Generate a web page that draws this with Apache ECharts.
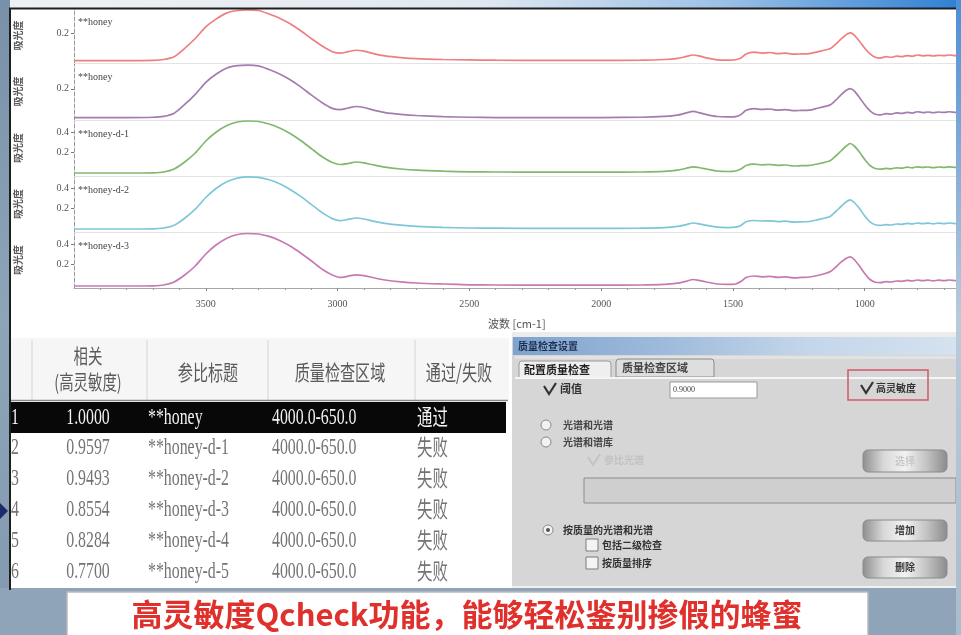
<!DOCTYPE html>
<html>
<head>
<meta charset="utf-8">
<script src="https://cdn.jsdelivr.net/npm/echarts@6/dist/echarts.min.js"></script>
<style>
  html, body { margin: 0; padding: 0; background: #8fa4b8; }
  #main { width: 961px; height: 635px; }
</style>
</head>
<body>
<div id="main"></div>
<script>
// ---- spectra: wavenumber grid (cm-1) and absorbance of each sample ----
const wavenumbers = [4000, 3900, 3800, 3700, 3660, 3620, 3580, 3540, 3500, 3460, 3420, 3380, 3340, 3300, 3260, 3220, 3180, 3140, 3100, 3060, 3020, 2990, 2960, 2930, 2900, 2860, 2820, 2760, 2700, 2600, 2500, 2400, 2200, 2000, 1850, 1760, 1710, 1680, 1650, 1630, 1600, 1560, 1520, 1490, 1470, 1450, 1420, 1390, 1360, 1330, 1300, 1270, 1240, 1210, 1180, 1150, 1130, 1110, 1090, 1070, 1055, 1040, 1020, 1000, 980, 960, 940, 920, 900, 880, 860, 840, 820, 800, 780, 760, 740, 720, 700, 680, 660, 650];

const honeyA = [0.002, 0.002, 0.002, 0.004, 0.010, 0.030, 0.090, 0.160, 0.243, 0.300, 0.343, 0.360, 0.364, 0.360, 0.335, 0.305, 0.265, 0.215, 0.160, 0.108, 0.066, 0.055, 0.066, 0.076, 0.070, 0.050, 0.036, 0.024, 0.016, 0.010, 0.007, 0.005, 0.004, 0.004, 0.005, 0.010, 0.018, 0.030, 0.042, 0.036, 0.022, 0.008, 0.006, 0.008, 0.020, 0.050, 0.062, 0.056, 0.060, 0.052, 0.056, 0.048, 0.050, 0.052, 0.065, 0.078, 0.088, 0.120, 0.155, 0.188, 0.200, 0.185, 0.140, 0.090, 0.050, 0.026, 0.020, 0.030, 0.026, 0.034, 0.030, 0.038, 0.033, 0.042, 0.036, 0.040, 0.035, 0.040, 0.037, 0.042, 0.038, 0.036];

const honeyB = [0.002, 0.002, 0.002, 0.004, 0.010, 0.032, 0.092, 0.162, 0.245, 0.302, 0.344, 0.360, 0.364, 0.358, 0.333, 0.302, 0.262, 0.213, 0.158, 0.106, 0.065, 0.056, 0.068, 0.078, 0.071, 0.051, 0.036, 0.024, 0.016, 0.008, 0.004, 0.002, 0.002, 0.002, 0.004, 0.010, 0.018, 0.032, 0.044, 0.036, 0.022, 0.009, 0.006, 0.008, 0.022, 0.052, 0.063, 0.058, 0.061, 0.053, 0.057, 0.049, 0.051, 0.053, 0.066, 0.079, 0.090, 0.122, 0.158, 0.190, 0.202, 0.186, 0.140, 0.090, 0.048, 0.025, 0.020, 0.029, 0.026, 0.034, 0.030, 0.038, 0.033, 0.042, 0.036, 0.040, 0.035, 0.040, 0.037, 0.042, 0.038, 0.036];

const honeyD1 = [-0.010, -0.010, -0.010, -0.008, 0.000, 0.030, 0.100, 0.190, 0.310, 0.400, 0.465, 0.500, 0.510, 0.505, 0.480, 0.440, 0.385, 0.315, 0.235, 0.155, 0.095, 0.075, 0.085, 0.100, 0.092, 0.068, 0.048, 0.030, 0.018, 0.008, 0.002, 0.000, -0.002, -0.002, 0.000, 0.006, 0.018, 0.035, 0.052, 0.045, 0.030, 0.010, 0.005, 0.010, 0.030, 0.065, 0.078, 0.072, 0.075, 0.066, 0.070, 0.060, 0.063, 0.066, 0.080, 0.098, 0.115, 0.160, 0.210, 0.260, 0.285, 0.260, 0.200, 0.125, 0.065, 0.035, 0.028, 0.036, 0.032, 0.042, 0.038, 0.048, 0.042, 0.052, 0.046, 0.050, 0.044, 0.050, 0.046, 0.052, 0.047, 0.045];

const honeyD2 = [-0.010, -0.010, -0.010, -0.008, 0.000, 0.028, 0.098, 0.188, 0.305, 0.398, 0.462, 0.498, 0.512, 0.506, 0.482, 0.442, 0.386, 0.316, 0.236, 0.156, 0.094, 0.074, 0.086, 0.100, 0.090, 0.066, 0.046, 0.028, 0.016, 0.006, 0.000, -0.002, -0.004, -0.004, -0.002, 0.004, 0.016, 0.032, 0.050, 0.042, 0.026, 0.008, 0.004, 0.008, 0.026, 0.062, 0.075, 0.070, 0.072, 0.064, 0.068, 0.058, 0.062, 0.065, 0.082, 0.100, 0.118, 0.165, 0.215, 0.262, 0.282, 0.255, 0.195, 0.120, 0.062, 0.032, 0.026, 0.034, 0.030, 0.040, 0.036, 0.046, 0.040, 0.050, 0.044, 0.048, 0.042, 0.048, 0.044, 0.050, 0.045, 0.043];

const honeyD3 = [-0.020, -0.020, -0.020, -0.018, -0.010, 0.020, 0.090, 0.180, 0.300, 0.392, 0.458, 0.495, 0.505, 0.500, 0.476, 0.436, 0.380, 0.310, 0.232, 0.150, 0.090, 0.066, 0.078, 0.092, 0.084, 0.060, 0.040, 0.022, 0.010, 0.000, -0.008, -0.010, -0.012, -0.012, -0.010, -0.004, 0.008, 0.026, 0.045, 0.036, 0.020, 0.000, -0.004, 0.000, 0.025, 0.065, 0.080, 0.072, 0.076, 0.066, 0.072, 0.062, 0.066, 0.070, 0.085, 0.105, 0.125, 0.170, 0.218, 0.258, 0.272, 0.245, 0.180, 0.105, 0.045, 0.018, 0.014, 0.024, 0.020, 0.030, 0.027, 0.036, 0.030, 0.040, 0.034, 0.038, 0.032, 0.038, 0.034, 0.040, 0.035, 0.033];

const spectra = [honeyA, honeyB, honeyD1, honeyD2, honeyD3];
const sampleNames = ['**honey', '**honey', '**honey-d-1', '**honey-d-2', '**honey-d-3'];
const yTickValues = [[0.2], [0.2], [0.2, 0.4], [0.2, 0.4], [0.2, 0.4]];
const xTickValues = [3500, 3000, 2500, 2000, 1500, 1000];

// ---- result table ----
const rowNumbers = ['1', '2', '3', '4', '5', '6'];
const correlations = ['1.0000', '0.9597', '0.9493', '0.8554', '0.8284', '0.7700'];
const refTitles = ['**honey', '**honey-d-1', '**honey-d-2', '**honey-d-3', '**honey-d-4', '**honey-d-5'];
const checkRegions = ['4000.0-650.0', '4000.0-650.0', '4000.0-650.0', '4000.0-650.0', '4000.0-650.0', '4000.0-650.0'];
const verdicts = ['通过', '失败', '失败', '失败', '失败', '失败'];
const headers = ['参比标题', '质量检查区域', '通过/失败'];

// ---- layout / style ----
const lineColors = ['#ef7e82', '#a47cad', '#80b96d', '#7ec6d8', '#c879b2'];
const panelTops = [8, 63, 120, 176, 232];
const panelHeights = [55, 57, 56, 56, 56];
const panelRanges = [[-0.015, 0.378], [-0.015, 0.378], [-0.04, 0.52], [-0.04, 0.52], [-0.04, 0.52]];
const SERIF = '"Liberation Serif", "DejaVu Serif", serif';
const CJK = '"Noto Sans CJK SC", "Noto Sans", sans-serif';

const grids = [], xAxes = [], yAxes = [], series = [];
spectra.forEach((vals, i) => {
  grids.push({ left: 74, width: 883, top: panelTops[i], height: panelHeights[i] });
  const last = i === spectra.length - 1;
  xAxes.push({
    gridIndex: i, type: 'value', min: 650, max: 4000, inverse: true, splitNumber: 7,
    axisLine: { show: true, onZero: false, lineStyle: { color: last ? '#a8a8a8' : '#e4e4e4', width: 1 } },
    axisTick: last ? { show: true, length: 3, customValues: xTickValues, lineStyle: { color: '#888' } } : { show: false },
    minorTick: { show: last, splitNumber: 5, length: 2, lineStyle: { color: '#999' } },
    axisLabel: last ? { show: true, customValues: xTickValues, margin: 11, fontSize: 10, color: '#555', fontFamily: SERIF,
                        formatter: v => String(v) } : { show: false },
    splitLine: { show: false }
  });
  yAxes.push({
    gridIndex: i, type: 'value', min: panelRanges[i][0], max: panelRanges[i][1],
    axisLine: { show: true, lineStyle: { color: '#9a9a9a', type: 'dashed' } },
    axisTick: { show: true, length: 3, customValues: yTickValues[i], lineStyle: { color: '#777' } },
    axisLabel: { customValues: yTickValues[i], margin: 5, fontSize: 10, color: '#555', fontFamily: SERIF,
                 formatter: v => v.toFixed(1) },
    splitLine: { show: false },
    name: '吸光度', nameLocation: 'middle', nameRotate: 90, nameGap: 51,
    nameTextStyle: { fontSize: 10, color: '#5a5a5a', fontFamily: CJK, fontWeight: 'bold' }
  });
  series.push({
    type: 'line', xAxisIndex: i, yAxisIndex: i, silent: true,
    data: wavenumbers.map((w, k) => [w, vals[k]]),
    showSymbol: false, smooth: 0.25,
    lineStyle: { color: lineColors[i], width: 1.7 }
  });
});

// ---- graphic helpers ----
function rect(x, y, w, h, fill, extra) {
  return Object.assign({ type: 'rect', shape: { x, y, width: w, height: h }, style: { fill } }, extra || {});
}
function line(x1, y1, x2, y2, stroke, lw, extra) {
  return Object.assign({ type: 'line', shape: { x1, y1, x2, y2 }, style: { stroke, lineWidth: lw || 1 } }, extra || {});
}
function text(x, y, s, o) {
  o = o || {};
  return {
    type: 'text', x, y, scaleX: o.sx || 1, z: o.z || 5,
    style: {
      text: s, x: 0, y: 0, fill: o.fill || '#555', fontSize: o.size || 12,
      fontFamily: o.family || CJK, fontWeight: o.weight || 'normal',
      align: o.align || 'left', verticalAlign: 'middle'
    }
  };
}
function hgrad(stops) {
  return { type: 'linear', x: 0, y: 0, x2: 1, y2: 0, colorStops: stops.map((c, i) => ({ offset: i / (stops.length - 1), color: c })) };
}
function vgrad(stops) {
  return { type: 'linear', x: 0, y: 0, x2: 0, y2: 1, colorStops: stops.map((c, i) => ({ offset: i / (stops.length - 1), color: c })) };
}
function button(x, y, w, h, label) {
  const els = [{
    type: 'rect', shape: { x, y, width: w, height: h, r: 5 },
    style: { fill: hgrad(['#8e8e8e', '#d9d9d9', '#f2f2f2', '#c4c4c4', '#8a8a8a']), stroke: '#8a8a8a', lineWidth: 1 }
  }];
  if (label) els.push(text(x + w / 2, y + h / 2, label, { size: 10, fill: '#3a3a3a', weight: 'bold', align: 'center' }));
  return els;
}
function checkbox(x, y, checked, col) {
  const els = [];
  if (checked) {
    els.push({ type: 'polyline', shape: { points: [[x, y - 3], [x + 5, y + 5], [x + 12, y - 6]] },
               style: { stroke: col || '#333', lineWidth: 2.2, fill: null } });
  } else {
    els.push({ type: 'rect', shape: { x, y: y - 6, width: 12, height: 12 }, style: { fill: '#f4f4f4', stroke: '#7a7a7a', lineWidth: 1 } });
  }
  return els;
}
function radio(x, y, on) {
  const els = [{ type: 'circle', shape: { cx: x, cy: y, r: 5 }, style: { fill: '#f2f2f2', stroke: '#8a8a8a', lineWidth: 1 } }];
  if (on) els.push({ type: 'circle', shape: { cx: x, cy: y, r: 2 }, style: { fill: '#555' } });
  return els;
}

const g = [];
// slide frame
g.push(rect(0, 0, 961, 9, hgrad(['#eef1f4', '#e9edf1', '#dfe8f1', '#9cc1e6', '#2f7fd4']), { z: -10 }));
g.push(rect(0, 0, 10, 635, vgrad(['#7890a8', '#8ea4b9', '#8299af']), { z: -10 }));
g.push(rect(0, 588, 961, 47, '#8fa4b8', { z: -10 }));
g.push(rect(10, 9, 946, 327, '#ffffff', { z: -10 }));
g.push(line(9, 8.5, 956, 8.5, '#1e1e1e', 2, { z: 20 }));
g.push(line(10, 8, 10, 590, '#1e1e1e', 2, { z: 20 }));
g.push(rect(956, 0, 5, 635, vgrad(['#4d8fd6', '#b9cadb', '#a9bccd']), { z: 20 }));
g.push({ type: 'polygon', shape: { points: [[0, 503], [8, 511], [0, 519]] }, style: { fill: '#1e2a6a' }, z: 20 });

// sample names inside each panel
sampleNames.forEach((n, i) => {
  g.push(text(78, panelTops[i] + 14, n, { size: 10, family: SERIF, fill: '#444' }));
});
g.push(text(488, 324, '波数 [cm-1]', { size: 11, family: CJK, fill: '#555' }));

// ---- table ----
g.push(rect(10, 336, 502, 252, '#ffffff', { z: -10 }));
g.push(rect(11, 338, 498, 62, '#f6f6f6'));
[32, 147, 268, 415].forEach(x => g.push(line(x, 340, x, 400, '#d4d4d4', 1)));
g.push(line(11, 400.5, 508, 400.5, '#8a8a8a', 1.5));
g.push(text(88, 356, '相关', { size: 20, sx: 0.72, align: 'center', fill: '#5a5a5a' }));
g.push(text(88, 382, '(高灵敏度)', { size: 20, sx: 0.72, align: 'center', fill: '#5a5a5a' }));
g.push(text(208, 372, headers[0], { size: 21, sx: 0.72, align: 'center', fill: '#5a5a5a' }));
g.push(text(340, 372, headers[1], { size: 21, sx: 0.72, align: 'center', fill: '#5a5a5a' }));
g.push(text(459, 372, headers[2], { size: 21, sx: 0.72, align: 'center', fill: '#5a5a5a' }));
g.push(rect(10, 402, 496, 31, '#080808'));
const rowY = [418, 448, 479, 510, 541, 572];
rowNumbers.forEach((r, i) => {
  const col = i === 0 ? '#f2f2f2' : '#747474';
  g.push(text(15, rowY[i], r, { size: 24, sx: 0.66, family: SERIF, align: 'center', fill: col }));
  g.push(text(88, rowY[i], correlations[i], { size: 24, sx: 0.66, family: SERIF, align: 'center', fill: col }));
  g.push(text(148, rowY[i], refTitles[i], { size: 24, sx: 0.66, family: SERIF, fill: col }));
  g.push(text(272, rowY[i], checkRegions[i], { size: 24, sx: 0.66, family: SERIF, fill: col }));
  g.push(text(417, rowY[i] - 1, verdicts[i], { size: 22, sx: 0.7, fill: col }));
});

// ---- quality-check settings dialog ----
g.push(rect(512, 332, 444, 256, '#d6d6d6', { z: -5 }));
g.push(rect(512, 332, 444, 5, '#ececec'));
g.push(rect(513, 337, 443, 18, hgrad(['#7fa3cd', '#9dbadb', '#c4d6ea', '#d5e2ef'])));
g.push(text(518, 346, '质量检查设置', { size: 10, fill: '#1d2f52', weight: 'bold' }));
g.push(rect(515, 356, 441, 3, '#e2e2e2'));
g.push({ type: 'rect', shape: { x: 519, y: 361, width: 92, height: 17, r: [3, 3, 0, 0] }, style: { fill: '#efefef', stroke: '#9a9a9a', lineWidth: 1 } });
g.push(text(524, 370, '配置质量检查', { size: 11, fill: '#222', weight: 'bold' }));
g.push({ type: 'rect', shape: { x: 616, y: 359, width: 98, height: 18, r: [3, 3, 0, 0] }, style: { fill: '#dedede', stroke: '#8a8a8a', lineWidth: 1 } });
g.push(text(622, 368, '质量检查区域', { size: 11, fill: '#444', weight: 'bold' }));
g.push(line(515, 378, 956, 378, '#f6f6f6', 2));
checkbox(544, 389, true).forEach(e => g.push(e));
g.push(text(560, 389, '阈值', { size: 11, fill: '#333', weight: 'bold' }));
g.push(rect(670, 382, 87, 16, '#ffffff', { style: { fill: '#ffffff', stroke: '#9a9a9a', lineWidth: 1 } }));
g.push(text(673, 390, '0.9000', { size: 8, family: SERIF, fill: '#444' }));
g.push({ type: 'rect', shape: { x: 848, y: 370, width: 80, height: 30 }, style: { fill: null, stroke: '#d3576a', lineWidth: 1.5 } });
checkbox(861, 388, true).forEach(e => g.push(e));
g.push(text(876, 388, '高灵敏度', { size: 10, fill: '#333', weight: 'bold' }));
radio(546, 425, false).forEach(e => g.push(e));
g.push(text(563, 425, '光谱和光谱', { size: 10, fill: '#444', weight: 'bold' }));
radio(546, 442, false).forEach(e => g.push(e));
g.push(text(563, 442, '光谱和谱库', { size: 10, fill: '#444', weight: 'bold' }));
checkbox(588, 460, true, '#c4c4c4').forEach(e => g.push(e));
g.push(text(604, 460, '参比光谱', { size: 10, fill: '#c2c2c2', weight: 'bold' }));
button(863, 450, 84, 22, '').forEach(e => g.push(e));
g.push(text(905, 461, '选择', { size: 10, fill: '#c8c8c8', align: 'center', weight: 'bold' }));
g.push(rect(584, 478, 372, 25, '#cfcfcf', { style: { fill: '#cfcfcf', stroke: '#8c8c8c', lineWidth: 1 } }));
radio(548, 530, true).forEach(e => g.push(e));
g.push(text(563, 530, '按质量的光谱和光谱', { size: 10, fill: '#333', weight: 'bold' }));
checkbox(586, 545, false).forEach(e => g.push(e));
g.push(text(602, 545, '包括二级检查', { size: 10, fill: '#333', weight: 'bold' }));
checkbox(586, 563, false).forEach(e => g.push(e));
g.push(text(602, 563, '按质量排序', { size: 10, fill: '#333', weight: 'bold' }));
button(863, 520, 84, 21, '增加').forEach(e => g.push(e));
button(863, 557, 84, 21, '删除').forEach(e => g.push(e));
g.push(line(512, 587, 956, 587, '#f0f0f0', 2));

// ---- caption ----
g.push(rect(67, 592, 801, 50, '#ffffff', { style: { fill: '#ffffff', stroke: '#b9b9b9', lineWidth: 1.5 } }));
g.push(text(467, 614, '高灵敏度Qcheck功能，能够轻松鉴别掺假的蜂蜜', { size: 31, weight: 'bold', fill: '#e0302c', align: 'center' }));

const chart = echarts.init(document.getElementById('main'), null, { renderer: 'canvas' });
chart.setOption({
  animation: false,
  backgroundColor: '#8fa4b8',
  grid: grids,
  xAxis: xAxes,
  yAxis: yAxes,
  series: series,
  graphic: { elements: g }
});
</script>
</body>
</html>
